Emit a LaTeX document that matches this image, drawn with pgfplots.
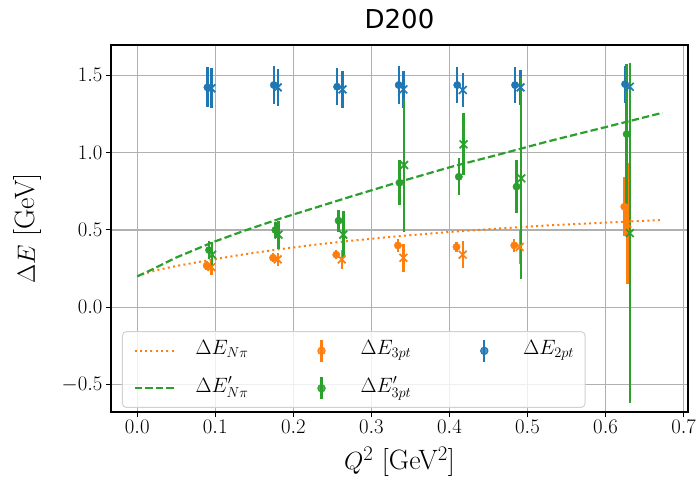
\documentclass[border=0pt]{standalone}
\usepackage{pgfplots}
\pgfplotsset{compat=1.18}
\usepackage{fontspec}
\newfontfamily\titlefont{DejaVu Sans}
\definecolor{cblue}{HTML}{1F77B4}
\definecolor{corange}{HTML}{FF7F0E}
\definecolor{cgreen}{HTML}{2CA02C}
\definecolor{cgrid}{HTML}{B0B0B0}
\pgfplotsset{
  errb/.style={only marks, mark=*, mark size=3.7pt, color=#1,
    error bars/.cd, y dir=both, y explicit, error mark=none,
    error bar style={line width=2.4pt, color=#1}},
  errx/.style={only marks, mark=x, mark size=5.5pt, color=#1, mark options={line width=1.7pt},
    error bars/.cd, y dir=both, y explicit, error mark=none,
    error bar style={line width=2.4pt, color=#1}},
}
\begin{document}
\begin{tikzpicture}
\path[use as bounding box] (-111pt,-80pt) rectangle (587pt,412pt);
\begin{axis}[
  at={(0pt,0pt)}, anchor=south west,
  scale only axis, width=577pt, height=367pt,
  xmin=-0.0336, xmax=0.7056, ymin=-0.677, ymax=1.696,
  xtick={0,0.1,0.2,0.3,0.4,0.5,0.6,0.7},
  ytick={-0.5,0,0.5,1,1.5},
  xticklabel style={/pgf/number format/.cd,fixed,fixed zerofill,precision=1},
  yticklabel style={/pgf/number format/.cd,fixed,fixed zerofill,precision=1},
  ticklabel style={font=\fontsize{21}{21}\selectfont},
  xtick pos=left, ytick pos=left,
  tick align=outside, major tick length=5pt,
  tick style={black, line width=1pt},
  axis line style={black, line width=1.1pt},
  grid=major, grid style={cgrid, line width=1.1pt},
  title={\titlefont D200},
  title style={at={(axis description cs:0.5,1.0545)}, anchor=center, font=\fontsize{26}{26}\selectfont},
  xlabel={$Q^2$ [GeV$^2$]},
  ylabel={$\Delta E$ [GeV]},
  xlabel style={at={(axis description cs:0.5,-0.136)}, anchor=center, font=\fontsize{28}{28}\selectfont},
  ylabel style={at={(axis description cs:-0.144,0.5)}, anchor=center, font=\fontsize{28}{28}\selectfont},
  legend columns=3,
  legend cell align=left,
  legend style={at={(axis description cs:0.019,0.011)}, anchor=south west,
    fill=white, fill opacity=0.8, text opacity=1, draw=black!18, line width=1pt,
    rounded corners=4pt, inner xsep=11pt, inner ysep=7pt,
    font=\fontsize{20}{22}\selectfont,
    nodes={inner sep=0pt, text height=14pt, text depth=6pt},
    row sep=13pt,
    /tikz/every odd column/.style={column sep=18pt},
    /tikz/every even column/.style={column sep=52pt}},
]
% curves
\addplot[forget plot, corange, line width=2pt, dash pattern=on 2pt off 3.3pt] coordinates {
 (0,0.2) (0.01,0.218) (0.025,0.24) (0.05,0.267) (0.09,0.303) (0.13,0.337) (0.177,0.372)
 (0.225,0.403) (0.273,0.43) (0.335,0.46) (0.40,0.487) (0.465,0.51) (0.528,0.53)
 (0.6,0.548) (0.673,0.564)};
\addplot[forget plot, cgreen, line width=2.2pt, dash pattern=on 7.4pt off 3.2pt] coordinates {
 (0,0.2) (0.0176,0.241) (0.05,0.322) (0.0985,0.424) (0.14,0.50) (0.184,0.575) (0.23,0.647)
 (0.273,0.715) (0.335,0.81) (0.40,0.905) (0.465,0.99) (0.528,1.075) (0.6,1.165) (0.673,1.258)};
% blue 2pt
\addplot[forget plot, errb=cblue] table[x index=0, y index=1, y error index=2] {
0.090 1.422 0.13
0.175 1.437 0.12
0.256 1.426 0.12
0.335 1.437 0.12
0.410 1.437 0.115
0.484 1.437 0.115
0.625 1.443 0.12
};
\addplot[forget plot, errx=cblue] table[x index=0, y index=1, y error index=2] {
0.095 1.416 0.13
0.180 1.422 0.12
0.263 1.409 0.12
0.341 1.409 0.12
0.417 1.405 0.113
0.491 1.422 0.115
0.631 1.426 0.12
};
% orange 3pt
\addplot[forget plot, errb=corange] table[x index=0, y index=1, y error index=2] {
0.089 0.27 0.03
0.174 0.32 0.03
0.255 0.34 0.03
0.334 0.40 0.04
0.409 0.39 0.03
0.483 0.40 0.04
0.624 0.65 0.19
};
\addplot[forget plot, errx=corange] table[x index=0, y index=1, y error index=2] {
0.095 0.26 0.05
0.180 0.31 0.04
0.262 0.31 0.06
0.341 0.32 0.09
0.417 0.34 0.086
0.490 0.39 0.11
0.628 0.54 0.39
};
% green 3pt'
\addplot[forget plot, errb=cgreen] table[x index=0, y index=1, y error index=2] {
0.092 0.37 0.06
0.177 0.50 0.05
0.258 0.56 0.07
0.336 0.805 0.145
0.412 0.844 0.12
0.486 0.78 0.17
0.627 1.12 0.45
};
\addplot[forget plot, errx=cgreen] table[x index=0, y index=1, y error index=2] {
0.096 0.34 0.08
0.181 0.47 0.09
0.264 0.47 0.15
0.342 0.92 0.43
0.418 1.054 0.20
0.492 0.834 0.65
0.631 0.48 1.10
};
% legend
\addlegendimage{legend image code/.code={\draw[corange, line width=2pt, dash pattern=on 2pt off 3.3pt] (0pt,0pt) -- (42pt,0pt);}}
\addlegendentry{$\Delta E_{N\pi}$}
\addlegendimage{legend image code/.code={\path[draw=none,fill=none] (0pt,0pt) -- (42pt,0pt); \draw[corange, line width=2.4pt] (21pt,-11pt) -- (21pt,11pt); \fill[corange] (21pt,0pt) circle (3.7pt);}}
\addlegendentry{$\Delta E_{3pt}$}
\addlegendimage{legend image code/.code={\path[draw=none,fill=none] (0pt,0pt) -- (42pt,0pt); \draw[cblue, line width=2.4pt] (21pt,-11pt) -- (21pt,11pt); \fill[cblue] (21pt,0pt) circle (3.7pt);}}
\addlegendentry{$\Delta E_{2pt}$}
\addlegendimage{legend image code/.code={\draw[cgreen, line width=2.2pt, dash pattern=on 7.4pt off 3.2pt] (0pt,0pt) -- (42pt,0pt);}}
\addlegendentry{$\Delta E'_{N\pi}$}
\addlegendimage{legend image code/.code={\path[draw=none,fill=none] (0pt,0pt) -- (42pt,0pt); \draw[cgreen, line width=2.4pt] (21pt,-11pt) -- (21pt,11pt); \fill[cgreen] (21pt,0pt) circle (3.7pt);}}
\addlegendentry{$\Delta E'_{3pt}$}
\end{axis}
\end{tikzpicture}
\end{document}
